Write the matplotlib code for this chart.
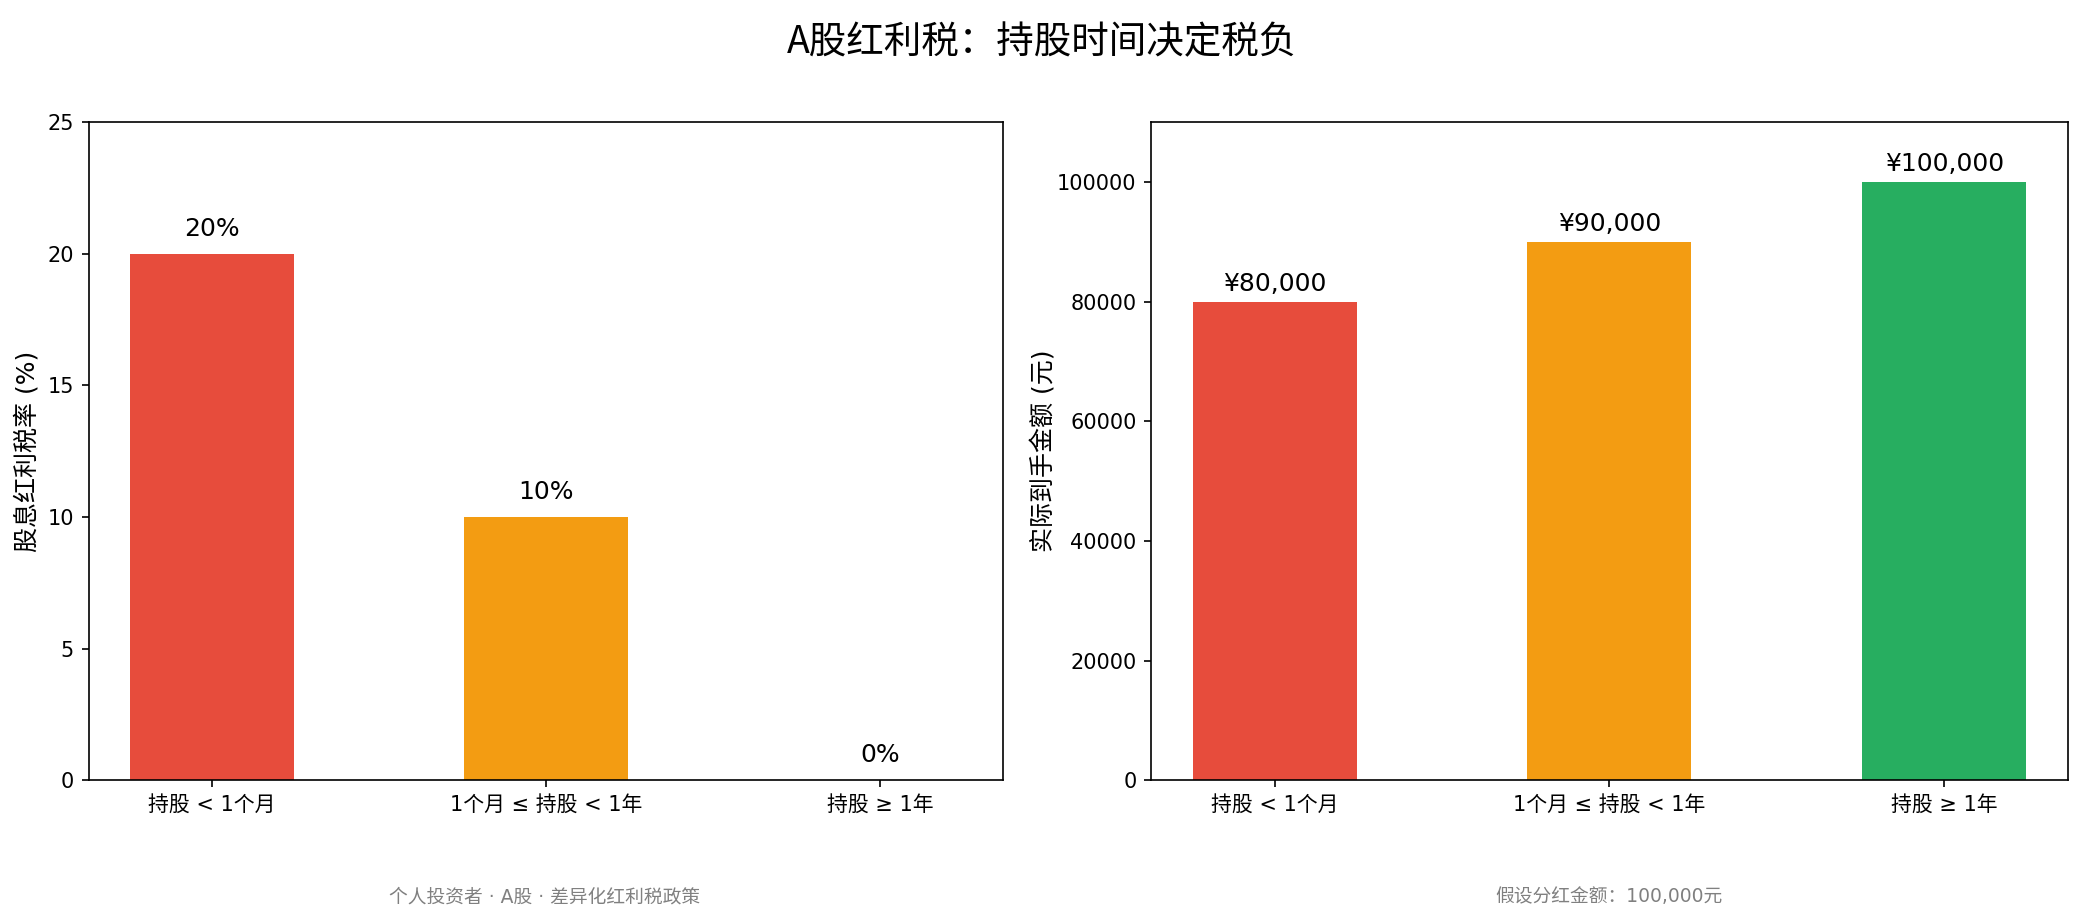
import matplotlib
matplotlib.use("Agg")
import matplotlib.pyplot as plt

plt.rcParams['font.family'] = ['DejaVu Sans', 'Noto Sans CJK SC']
plt.rcParams['axes.unicode_minus'] = False

# data
categories = ["持股 < 1个月", "1个月 ≤ 持股 < 1年", "持股 ≥ 1年"]
tax_rates = [20, 10, 0]
net_amounts = [80000, 90000, 100000]
rate_labels = ["20%", "10%", "0%"]
amount_labels = ["¥80,000", "¥90,000", "¥100,000"]
colors = ["#e74c3c", "#f39c12", "#27ae60"]

fig = plt.figure(figsize=(2084 / 150, 919 / 150), dpi=150)
ax1 = fig.add_axes([0.0425, 0.151, 0.439, 0.716])
ax2 = fig.add_axes([0.5523, 0.151, 0.44, 0.716])

x = list(range(len(categories)))

# left: tax rate
ax1.bar(x, tax_rates, width=0.49, color=colors)
for xi, v, lab in zip(x, tax_rates, rate_labels):
    ax1.text(xi, v + 0.5, lab, ha="center", va="bottom", fontsize=12)
ax1.set_ylim(0, 25)
ax1.set_xticks(x)
ax1.set_xticklabels(categories, fontsize=10)
ax1.set_ylabel("股息红利税率 (%)", fontsize=12)
ax1.tick_params(axis="y", labelsize=10)

# right: net amount
ax2.bar(x, net_amounts, width=0.49, color=colors)
for xi, v, lab in zip(x, net_amounts, amount_labels):
    ax2.text(xi, v + 1000, lab, ha="center", va="bottom", fontsize=12)
ax2.set_ylim(0, 110000)
ax2.set_xticks(x)
ax2.set_xticklabels(categories, fontsize=10)
ax2.set_ylabel("实际到手金额 (元)", fontsize=12, labelpad=0)
ax2.tick_params(axis="y", labelsize=10)

fig.suptitle("A股红利税：持股时间决定税负", fontsize=18, y=0.975,
             family=['Noto Sans CJK SC', 'DejaVu Sans'])

fig.text(0.2615, 0.018, "个人投资者 · A股 · 差异化红利税政策", ha="center", fontsize=9, color="gray")
fig.text(0.7723, 0.018, "假设分红金额：100,000元", ha="center", fontsize=9, color="gray")

fig.savefig("out.png", dpi=150)
